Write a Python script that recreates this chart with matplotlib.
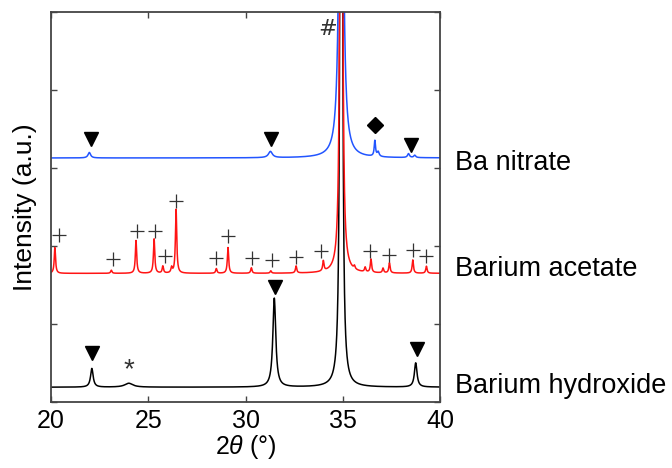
import numpy as np
import matplotlib
matplotlib.use("Agg")
import matplotlib.pyplot as plt

plt.rcParams['font.family'] = ['Liberation Sans', 'DejaVu Sans']
plt.rcParams['mathtext.fontset'] = 'custom'
plt.rcParams['mathtext.it'] = 'Liberation Sans:italic'
plt.rcParams['mathtext.rm'] = 'Liberation Sans'

# peak tables (2theta in degrees, heights in axis units)
hydroxide_pos = [22.1, 24.0, 31.48, 34.92, 38.75]
hydroxide_h = [0.24, 0.05, 1.14, 40.0, 0.31]
hydroxide_w = [0.08, 0.25, 0.09, 0.03, 0.08]
hydroxide_base = 0.19

acetate_pos = [20.2, 23.1, 24.37, 25.3, 25.75, 26.2, 26.43, 28.5, 29.1, 30.3, 31.3,
               32.6, 34.0, 34.92, 35.6, 36.15, 36.45, 37.07, 37.4, 38.6, 39.3]
acetate_h = [0.33, 0.04, 0.42, 0.44, 0.09, 0.07, 0.82, 0.06, 0.33, 0.07, 0.03,
             0.09, 0.13, 40.0, 0.04, 0.06, 0.17, 0.06, 0.13, 0.17, 0.09]
acetate_w = [0.04] * 13 + [0.028] + [0.04] * 7
acetate_base = 1.65

nitrate_pos = [21.97, 31.28, 34.92, 36.65, 36.82, 38.38, 38.7]
nitrate_h = [0.07, 0.08, 10.0, 0.2, 0.06, 0.05, 0.03]
nitrate_w = [0.08, 0.12, 0.08, 0.04, 0.06, 0.06, 0.06]
nitrate_base = 3.13

# phase markers
tri_x = [22.1, 31.5, 38.8, 22.05, 31.3, 38.5]
tri_y = [0.63, 1.47, 0.68, 3.37, 3.37, 3.29]
plus_x = [20.4, 23.2, 24.4, 25.35, 25.85, 26.45, 28.5, 29.1, 30.35, 31.35, 32.6,
          33.9, 36.4, 37.4, 38.6, 39.3]
plus_y = [2.14, 1.83, 2.19, 2.19, 1.87, 2.58, 1.85, 2.13, 1.85, 1.82, 1.86,
          1.94, 1.94, 1.88, 1.95, 1.87]
diamond_x, diamond_y = [36.65], [3.55]
star_x, star_y = 24.0, 0.41
hash_x, hash_y = 34.2, 4.78

labels = ['Ba nitrate', 'Barium acetate', 'Barium hydroxide']
label_y = [2.97, 1.61, 0.11]

two_theta = np.arange(20.0, 40.0001, 0.01)


def pattern(pos, h, w, base):
    y = np.full_like(two_theta, base)
    for p, a, g in zip(pos, h, w):
        y += a * g ** 2 / ((two_theta - p) ** 2 + g ** 2)
    return y


fig = plt.figure(figsize=(6.72, 4.68), dpi=100)
ax = fig.add_axes([0.0759, 0.141, 0.5789, 0.833])

ax.plot(two_theta, pattern(hydroxide_pos, hydroxide_h, hydroxide_w, hydroxide_base),
        color='black', lw=1.1)
ax.plot(two_theta, pattern(acetate_pos, acetate_h, acetate_w, acetate_base),
        color='#ff1414', lw=1.1)
ax.plot(two_theta, pattern(nitrate_pos, nitrate_h, nitrate_w, nitrate_base),
        color='#2255ff', lw=1.1)

ax.plot(tri_x, tri_y, 'v', color='black', ms=10.5, ls='none')
ax.plot(diamond_x, diamond_y, 'D', color='black', ms=8, ls='none')
ax.plot(plus_x, plus_y, '+', color='#333333', ms=10, mew=0.9, ls='none')
ax.text(star_x, star_y, '*', fontsize=20, ha='center', va='center', color='#333333')
ax.text(hash_x, hash_y, '#', fontsize=16, ha='center', va='center', color='#333333',
        family='DejaVu Sans')

for lab, yy in zip(labels, label_y):
    ax.text(40.77, yy, lab, fontsize=19.5, ha='left', va='baseline', clip_on=False)

ax.set_xlim(20, 40)
ax.set_ylim(0, 5)
ax.set_xticks([20, 25, 30, 35, 40])
ax.set_yticks([0, 1, 2, 3, 4, 5])
ax.set_yticklabels([])
ax.tick_params(direction='in', length=4, width=1, top=True, right=True,
               labelsize=18, color='#444444', pad=5)
for s in ax.spines.values():
    s.set_color('#444444')
    s.set_linewidth(1.3)

ax.set_xlabel(r'$2\theta$ (°)', fontsize=18, labelpad=0)
ax.set_ylabel('Intensity (a.u.)', fontsize=19, labelpad=5)

fig.savefig('out.png', dpi=100)
